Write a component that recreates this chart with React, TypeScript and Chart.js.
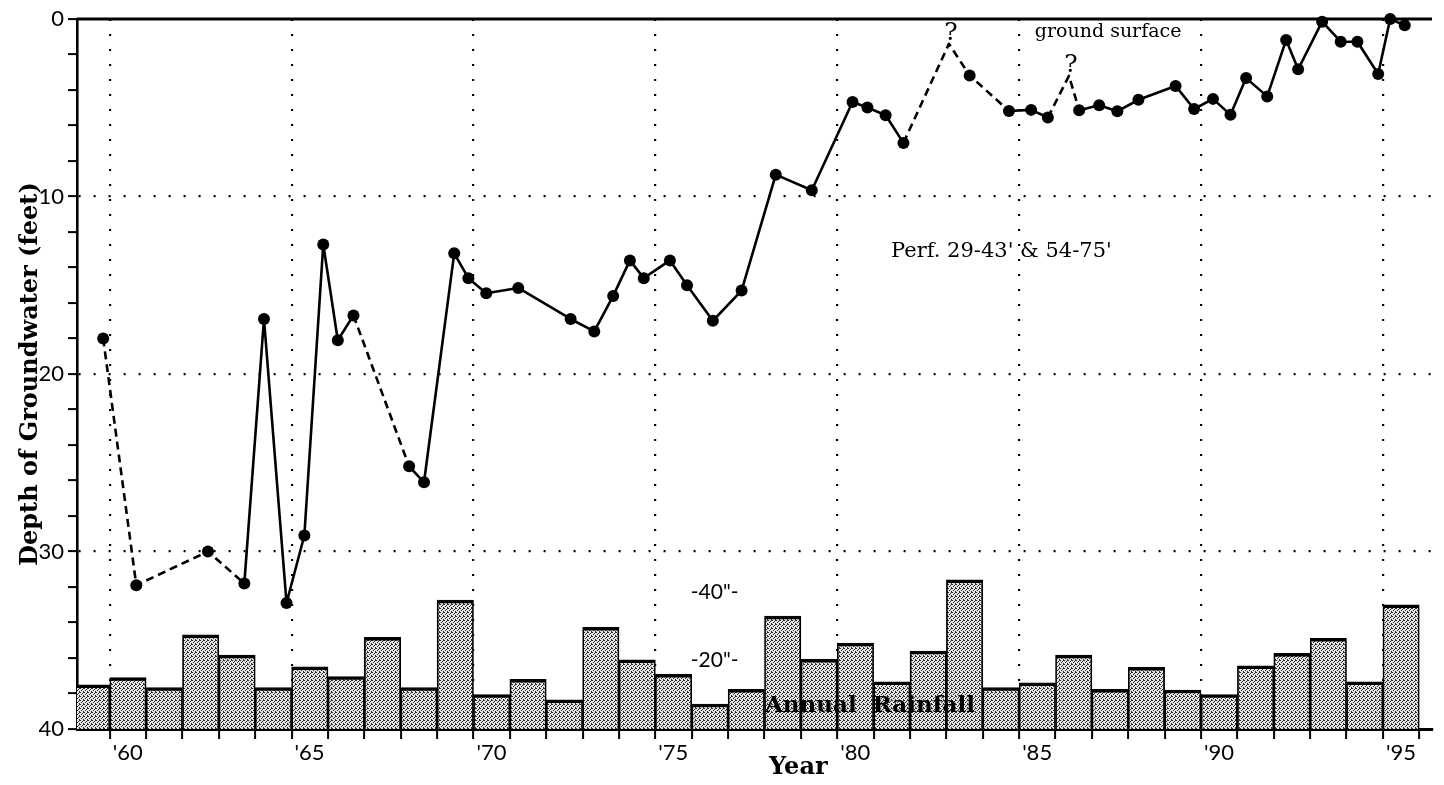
import React, { useEffect, useRef } from "react";
import { Chart, registerables } from "chart.js";

Chart.register(...registerables);

// Depth to groundwater: decimal year and feet below ground surface
const gwYear = [
  1959.82, 1960.73, 1962.7, 1963.7, 1964.24, 1964.86, 1965.35, 1965.87, 1966.27, 1966.7,
  1968.23, 1968.64, 1969.47, 1969.86, 1970.35, 1971.23, 1972.67, 1973.32, 1973.84, 1974.3,
  1974.68, 1975.4, 1975.87, 1976.58, 1977.37, 1978.31, 1979.3, 1980.42, 1980.83, 1981.33,
  1981.82, 1983.07, 1983.64, 1984.72, 1985.33, 1985.79, 1986.37, 1986.65, 1987.2, 1987.7,
  1988.28, 1989.3, 1989.81, 1990.33, 1990.81, 1991.24, 1991.82, 1992.34, 1992.67, 1993.33,
  1993.84, 1994.3, 1994.87, 1995.2, 1995.6,
];
const gwDepth = [
  18.0, 31.9, 30.0, 31.8, 16.9, 32.9, 29.1, 12.7, 18.1, 16.7,
  25.2, 26.1, 13.2, 14.6, 15.45, 15.15, 16.9, 17.6, 15.6, 13.6,
  14.6, 13.6, 15.0, 17.0, 15.3, 8.77, 9.65, 4.68, 4.99, 5.42,
  6.98, 1.4, 3.18, 5.18, 5.12, 5.55, 3.2, 5.14, 4.86, 5.2,
  4.55, 3.77, 5.07, 4.5, 5.4, 3.33, 4.36, 1.18, 2.83, 0.15,
  1.28, 1.28, 3.1, 0.0, 0.35,
];
// Unmeasured peaks (shown with a "?") and the links that are only inferred
const uncertainPeaks = [31, 36];
const inferredLinks = [0, 1, 2, 9, 30, 31, 32, 35, 36];

// Annual rainfall, inches
const rainYear = [
  1959, 1960, 1961, 1962, 1963, 1964, 1965, 1966, 1967, 1968, 1969, 1970, 1971,
  1972, 1973, 1974, 1975, 1976, 1977, 1978, 1979, 1980, 1981, 1982, 1983, 1984,
  1985, 1986, 1987, 1988, 1989, 1990, 1991, 1992, 1993, 1994, 1995,
];
const rainInches = [
  12.9, 15.0, 12.1, 27.5, 21.6, 12.1, 18.2, 15.3, 26.8, 12.1, 37.7, 10.1, 14.5,
  8.5, 29.7, 20.2, 16.0, 7.3, 11.6, 33.0, 20.4, 25.1, 13.8, 22.8, 43.6, 12.1,
  13.5, 21.6, 11.6, 18.0, 11.4, 10.1, 18.5, 22.1, 26.5, 13.8, 36.3,
];
const rainMarks = [20, 40];

// Axis labelling
const labelYears = [1960, 1965, 1970, 1975, 1980, 1985, 1990, 1995];
const labelText = ["'60", "'65", "'70", "'75", "'80", "'85", "'90", "'95"];
const depthLabels = [0, 10, 20, 30, 40];

const X_MIN = 1959.1;
const X_MAX = 1996.35;
const RAIN_MAX = 207.6;

const SERIF = '"DejaVu Serif", "Liberation Serif", serif';
const SANS = 'Lato, "Open Sans", sans-serif';

// Stippled grey fill for the rainfall bars
function stipple(): CanvasPattern | string {
  const c = document.createElement("canvas");
  c.width = 4;
  c.height = 4;
  const g = c.getContext("2d");
  if (!g) return "#b4b4b4";
  g.fillStyle = "#e2e2e2";
  g.fillRect(0, 0, 4, 4);
  g.fillStyle = "#2e2e2e";
  [
    [0, 0],
    [2, 1],
    [1, 2],
    [3, 3],
    [3, 0],
  ].forEach(([x, y]) => g.fillRect(x, y, 1, 1));
  return g.createPattern(c, "repeat") || "#b4b4b4";
}

const notes = {
  id: "notes",
  beforeDatasetsDraw(chart: any) {
    const { ctx, chartArea, scales } = chart;
    const y0 = scales.y.getPixelForValue(0);
    ctx.save();
    ctx.strokeStyle = "#000";
    ctx.lineWidth = 3;
    ctx.beginPath();
    ctx.moveTo(chartArea.left, y0);
    ctx.lineTo(chartArea.right, y0);
    ctx.stroke();
    ctx.restore();
  },
  afterDatasetsDraw(chart: any) {
    const { ctx, scales } = chart;
    const x = scales.x;
    const y = scales.y;
    const r = scales.rain;
    ctx.save();
    ctx.fillStyle = "#000";

    // question marks over the unmeasured peaks
    ctx.font = `25px ${SERIF}`;
    ctx.textAlign = "center";
    ctx.textBaseline = "alphabetic";
    uncertainPeaks.forEach((i) => {
      ctx.fillText("?", x.getPixelForValue(gwYear[i]) + 2, y.getPixelForValue(gwDepth[i]) - 4);
    });

    ctx.textAlign = "left";
    ctx.font = `19px ${SERIF}`;
    ctx.fillText("ground surface", x.getPixelForValue(1985.43), y.getPixelForValue(1.0));
    ctx.font = `21px ${SERIF}`;
    ctx.fillText("Perf. 29-43' & 54-75'", x.getPixelForValue(1981.48), y.getPixelForValue(13.43));

    // rainfall scale marks
    ctx.font = `21px ${SANS}`;
    ctx.textAlign = "center";
    ctx.textBaseline = "middle";
    rainMarks.forEach((v) => {
      ctx.fillText(`-${v}"-`, x.getPixelForValue(1976.63), r.getPixelForValue(v));
    });

    ctx.font = `bold 23px ${SERIF}`;
    ctx.fillText("Annual  Rainfall", x.getPixelForValue(1980.9), r.getPixelForValue(6.7));
    ctx.restore();
  },
  afterDraw(chart: any) {
    const { ctx, chartArea, scales } = chart;
    ctx.save();
    ctx.fillStyle = "#000";
    ctx.font = `bold 24px ${SERIF}`;
    ctx.textAlign = "center";
    ctx.textBaseline = "middle";
    ctx.fillText("Year", scales.x.getPixelForValue(1978.93), chartArea.bottom + 39);
    ctx.translate(31, (chartArea.top + chartArea.bottom) / 2);
    ctx.rotate(-Math.PI / 2);
    ctx.fillText("Depth of Groundwater (feet)", 0, 0);
    ctx.restore();
  },
};

export default function App() {
  const canvasRef = useRef<HTMLCanvasElement | null>(null);

  useEffect(() => {
    const canvas = canvasRef.current;
    if (!canvas) return;

    const xTicks: number[] = [];
    for (let v = 1960; v <= 1996; v += 1) xTicks.push(v);

    const chart = new Chart(canvas, {
      data: {
        datasets: [
          {
            type: "line",
            label: "Depth of groundwater",
            data: gwYear.map((yr, i) => ({ x: yr, y: gwDepth[i] })),
            xAxisID: "x",
            yAxisID: "y",
            borderColor: "#000",
            borderWidth: 2.6,
            borderJoinStyle: "round",
            borderCapStyle: "butt",
            tension: 0,
            clip: false as any,
            order: 0,
            pointRadius: gwYear.map((_, i) => (uncertainPeaks.includes(i) ? 0 : 6)),
            pointBackgroundColor: "#000",
            pointBorderColor: "#000",
            pointBorderWidth: 0,
            segment: {
              borderDash: (c: any) => (inferredLinks.includes(c.p0DataIndex) ? [8, 5] : undefined),
            },
          },
          {
            type: "bar",
            label: "Annual rainfall",
            data: rainYear.map((yr, i) => ({ x: yr + 0.5, y: rainInches[i] })),
            xAxisID: "x",
            yAxisID: "rain",
            backgroundColor: stipple() as any,
            borderColor: "#000",
            borderWidth: { top: 3.5, left: 1.7, right: 1.7, bottom: 0 },
            borderSkipped: false,
            barPercentage: 1,
            categoryPercentage: 1,
            order: 1,
          },
        ] as any,
      },
      options: {
        animation: false,
        responsive: false,
        devicePixelRatio: 1,
        events: [],
        layout: { padding: { top: 19, right: 12, left: 0, bottom: 0 } },
        plugins: { legend: { display: false }, tooltip: { enabled: false } },
        scales: {
          x: {
            type: "linear",
            position: "bottom",
            offset: false,
            min: X_MIN,
            max: X_MAX,
            afterBuildTicks: (scale: any) => {
              scale.ticks = xTicks.map((v) => ({ value: v }));
            },
            afterFit: (scale: any) => {
              scale.height = 56;
            },
            ticks: {
              autoSkip: false,
              maxRotation: 0,
              minRotation: 0,
              padding: 1,
              labelOffset: 18,
              color: "#000",
              font: { family: SANS, size: 22 },
              callback: (v: any) => {
                const i = labelYears.indexOf(Number(v));
                return i >= 0 ? labelText[i] : "";
              },
            },
            grid: {
              offset: false,
              lineWidth: 2.2,
              tickWidth: 2,
              tickLength: 10,
              color: (c: any) => {
                const v = c.tick ? c.tick.value : NaN;
                return v % 5 === 0 && v < 1996 ? "#000" : "transparent";
              },
              tickColor: "#000",
            },
            border: { display: true, color: "#000", width: 3, dash: [2, 13] },
          },
          y: {
            type: "linear",
            position: "left",
            reverse: true,
            min: 0,
            max: 40,
            afterFit: (scale: any) => {
              scale.width = 77;
            },
            ticks: {
              stepSize: 2,
              autoSkip: false,
              padding: 4,
              color: "#000",
              font: { family: SANS, size: 22 },
              callback: (v: any) => (depthLabels.includes(Number(v)) ? String(v) : ""),
            },
            grid: {
              lineWidth: 2.2,
              tickWidth: 2,
              tickLength: 9,
              color: (c: any) => {
                const v = c.tick ? c.tick.value : NaN;
                return v > 0 && v < 40 && v % 10 === 0 ? "#000" : "transparent";
              },
              tickColor: "#000",
            },
            border: { display: true, color: "#000", width: 2.6, dash: [2, 13] },
          },
          rain: {
            type: "linear",
            position: "right",
            display: true,
            min: 0,
            max: RAIN_MAX,
            afterFit: (scale: any) => {
              scale.width = 0;
            },
            ticks: { display: false },
            grid: { display: false, drawOnChartArea: false, drawTicks: false },
            border: { display: false },
          },
        },
      } as any,
      plugins: [notes],
    });

    return () => chart.destroy();
  }, []);

  return (
    <div
      style={{
        position: "fixed",
        left: 0,
        top: 0,
        width: 1444,
        height: 785,
        background: "#fff",
      }}
    >
      <canvas ref={canvasRef} width={1444} height={785} style={{ display: "block" }} />
    </div>
  );
}
